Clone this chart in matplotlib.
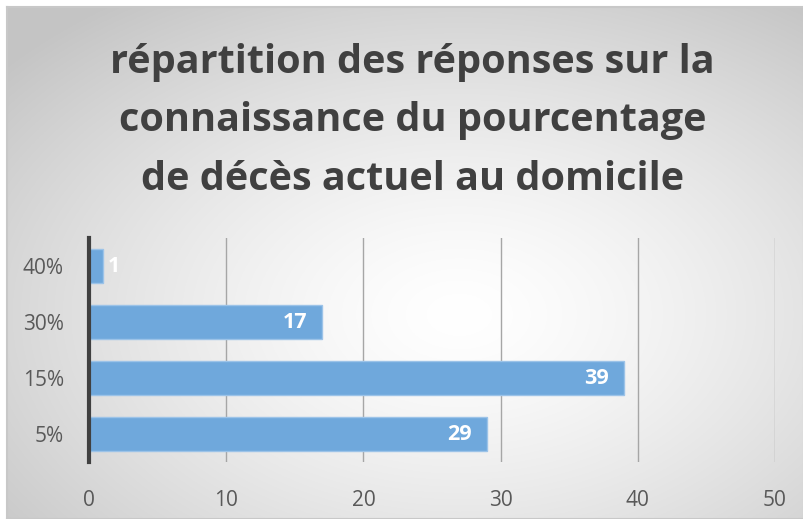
import numpy as np
import matplotlib
matplotlib.use('Agg')
import matplotlib.pyplot as plt

categories = ['5%', '15%', '30%', '40%']
counts = [29, 39, 17, 1]
x_ticks = [0, 10, 20, 30, 40, 50]
title = "répartition des réponses sur la\nconnaissance du pourcentage\nde décès actuel au domicile"

W, H = 804, 519
fig = plt.figure(figsize=(W / 100, H / 100), dpi=100)
fig.patch.set_facecolor('white')

# radial grey gradient background of the chart box
bg = fig.add_axes([7 / W, 0, 1 - 7 / W, 1 - 7 / H], zorder=0)
yy, xx = np.mgrid[0:400, 0:600]
cx, cy = 340, 240
r = np.sqrt(((xx - cx) / 600.0) ** 2 + ((yy - cy) / 400.0) ** 2)
r = np.clip(r / 0.75, 0, 1)
shade = 1.0 - 0.23 * r ** 1.4
bg.imshow(np.dstack([shade] * 3), aspect='auto', extent=[0, 1, 0, 1])
bg.set_xticks([])
bg.set_yticks([])
for s in bg.spines.values():
    s.set_color('#c8c8c8')
    s.set_linewidth(1.5)

fig.text(0.513, 1 - 121 / H, title, ha='center', va='center', fontsize=28.5,
         fontweight='bold', color='#404040', family='Open Sans', linespacing=1.64)

ax = fig.add_axes([89 / W, 1 - 462 / H, (775 - 89) / W, (462 - 238) / H], zorder=1)
ax.patch.set_alpha(0)
y = np.arange(len(categories))
ax.barh(y, counts, height=0.6, color='#6fa8dc', edgecolor='#9cc3e8', linewidth=1, zorder=2)
for yi, v in zip(y, counts):
    if v > 3:
        ax.text(v - 1.1, yi, str(v), ha='right', va='center', color='white',
                fontsize=15.5, fontweight='bold', family='Open Sans', zorder=3)
    else:
        ax.text(v + 0.35, yi, str(v), ha='left', va='center', color='white',
                fontsize=15.5, fontweight='bold', family='Open Sans', zorder=3)

ax.set_xlim(0, 50)
ax.set_ylim(-0.5, len(categories) - 0.5)
ax.set_xticks(x_ticks)
ax.set_yticks(y)
ax.set_yticklabels(categories)
ax.grid(axis='x', color='#a6a6a6', linewidth=1, zorder=1)
ax.set_axisbelow(True)
for name in ['top', 'right', 'bottom']:
    ax.spines[name].set_visible(False)
ax.spines['left'].set_color('#404040')
ax.spines['left'].set_linewidth(3)
ax.spines['left'].set_zorder(4)
ax.tick_params(length=0, labelsize=15, labelcolor='#595959', pad=18)
ax.tick_params(axis='x', pad=20)
for lab in ax.get_xticklabels() + ax.get_yticklabels():
    lab.set_family('Open Sans')

fig.savefig('out.png', dpi=100)
